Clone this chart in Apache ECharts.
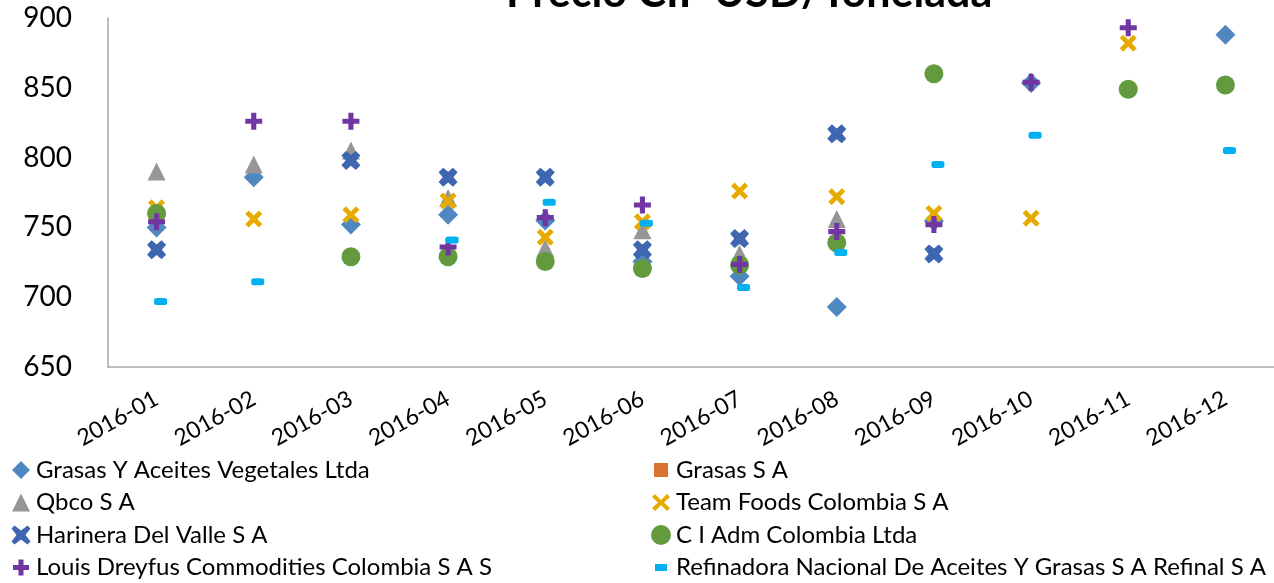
<!DOCTYPE html>
<html>
<head>
<meta charset="utf-8">
<script src="https://cdn.jsdelivr.net/npm/echarts@6/dist/echarts.min.js"></script>
<style>
html,body{margin:0;padding:0;background:#fff;}
#chart{width:1274px;height:583px;}
</style>
</head>
<body>
<div id="chart"></div>
<script>
var categories = ['2016-01','2016-02','2016-03','2016-04','2016-05','2016-06','2016-07','2016-08','2016-09','2016-10','2016-11','2016-12'];
var yTicks = [650, 700, 750, 800, 850, 900];

var grasasYAceites = [750, 786, 752, 759, 755, 725.5, 715, 693, 754.5, 853.5, null, 888];
var grasasSA       = [null, null, null, null, null, null, null, null, null, null, null, null];
var qbco           = [790, 795, 805, 771, 735, 748, 731, 756, null, null, null, null];
var teamFoods      = [764, 756, 759, 769, 743, 754, 776, 772, 760, 756.5, 882, null];
var harinera       = [734, null, 798, 786, 786, 734, 742, 817, 731, null, null, null];
var ciAdm          = [760, null, 729, 729, 725.5, 720.5, 723, 739, 860, null, 849, 852];
var louisDreyfus   = [754, 826, 826, 736, 757, 766, 723.5, 747, 752, 854, 893, null];
var refinadora     = [697, 711, null, 741, 768, 753, 707, 732, 795, 816, null, 805];

var names = [
  'Grasas Y Aceites Vegetales Ltda',
  'Grasas S A',
  'Qbco S A',
  'Team Foods Colombia S A',
  'Harinera Del Valle S A',
  'C I Adm Colombia Ltda',
  'Louis Dreyfus Commodities Colombia S A S',
  'Refinadora Nacional De Aceites Y Grasas S A Refinal S A'
];

var X_PATH = 'path://M2,0 L5,3 L8,0 L10,2 L7,5 L10,8 L8,10 L5,7 L2,10 L0,8 L3,5 L0,2 Z';
var X2_PATH = 'path://M2.4,0 L5,2.2 L7.6,0 L10,2.4 L7.8,5 L10,7.6 L7.6,10 L5,7.8 L2.4,10 L0,7.6 L2.2,5 L0,2.4 Z';
var PLUS_PATH = 'path://M3.5,0 H6.5 V3.5 H10 V6.5 H6.5 V10 H3.5 V6.5 H0 V3.5 H3.5 Z';

function sc(name, data, color, symbol, size, extra) {
  var s = {
    name: name,
    type: 'scatter',
    data: data,
    symbol: symbol,
    symbolSize: size,
    itemStyle: { color: color, opacity: 1 },
    emphasis: { disabled: true },
    animation: false
  };
  if (extra) for (var k in extra) s[k] = extra[k];
  return s;
}

var series = [
  sc(names[0], grasasYAceites, '#4F87C1', 'diamond', [20, 20]),
  sc(names[1], grasasSA, '#DA7230', 'rect', [14, 14]),
  sc(names[2], qbco, '#969696', 'triangle', [18, 18]),
  sc(names[3], teamFoods, '#E6AA00', X_PATH, [17, 17]),
  sc(names[4], harinera, '#3F66B0', X2_PATH, [19, 19]),
  sc(names[5], ciAdm, '#629A3D', 'circle', [19, 19]),
  sc(names[6], louisDreyfus, '#7236A3', PLUS_PATH, [17, 17]),
  sc(names[7], refinadora, '#00B0F0', 'roundRect', [13, 7], { symbolOffset: [4, 0] })
];

var legendText = { fontFamily: 'Lato', fontSize: 24, color: '#000', lineHeight: 24 };
var legendIcons = {};
legendIcons[names[0]] = 'path://M0,0 M20,20 M10,1 L19,10 L10,19 L1,10 Z';
legendIcons[names[1]] = 'path://M0,0 M20,20 M3,3 H17 V17 H3 Z';
legendIcons[names[2]] = 'path://M0,0 M20,20 M10,1 L19,19 L1,19 Z';
legendIcons[names[3]] = 'path://M0,0 M20,20 M4,1.5 L10,7.5 L16,1.5 L19,4.5 L13,10 L19,15.5 L16,18.5 L10,12.5 L4,18.5 L1,15.5 L7,10 L1,4.5 Z';
legendIcons[names[4]] = 'path://M0,0 M20,20 M3.5,0.5 L10,5.5 L16.5,0.5 L19.5,3.5 L14.5,10 L19.5,16.5 L16.5,19.5 L10,14.5 L3.5,19.5 L0.5,16.5 L5.5,10 L0.5,3.5 Z';
legendIcons[names[5]] = 'circle';
legendIcons[names[6]] = 'path://M0,0 M20,20 M7.5,2 H12.5 V7.5 H18 V12.5 H12.5 V18 H7.5 V12.5 H2 V7.5 H7.5 Z';
legendIcons[names[7]] = 'path://M0,0 M20,20 M4,6.5 H16 V13.5 H4 Z';

function legendData(idx) {
  return idx.map(function (i) { return { name: names[i], icon: legendIcons[names[i]] }; });
}

var chart = echarts.init(document.getElementById('chart'));
chart.setOption({
  animation: false,
  backgroundColor: '#fff',
  title: {
    text: 'Precio CIF USD/Tonelada',
    left: 501,
    top: -33,
    textStyle: { fontFamily: 'Lato', fontWeight: 'bold', fontSize: 43, color: '#000' }
  },
  grid: { left: 108, right: -5, top: 18, bottom: 216, containLabel: false },
  legend: [
    {
      orient: 'vertical', left: 11, top: 458, padding: 0, itemWidth: 20, itemHeight: 20, itemGap: 8.5,
      itemTextGap: 3, textStyle: legendText, selectedMode: false,
      data: legendData([0, 2, 4, 6])
    },
    {
      orient: 'vertical', left: 651, top: 458, padding: 0, itemWidth: 20, itemHeight: 20, itemGap: 8.5,
      itemTextGap: 3, textStyle: legendText, selectedMode: false,
      data: legendData([1, 3, 5, 7])
    }
  ],
  xAxis: {
    type: 'category',
    data: categories,
    boundaryGap: true,
    axisLine: { show: true, lineStyle: { color: '#A6A6A6', width: 1.5 } },
    axisTick: { show: false },
    splitLine: { show: false },
    axisLabel: { rotate: 29, margin: 30, fontFamily: 'Lato', fontSize: 23, color: '#000', interval: 0 }
  },
  yAxis: {
    type: 'value',
    min: yTicks[0],
    max: yTicks[yTicks.length - 1],
    interval: 50,
    axisLine: { show: true, lineStyle: { color: '#A6A6A6', width: 1.5 } },
    axisTick: { show: false },
    splitLine: { show: false },
    axisLabel: { margin: 36, fontFamily: 'Lato', fontSize: 28, color: '#000' }
  },
  series: series
});
</script>
</body>
</html>
